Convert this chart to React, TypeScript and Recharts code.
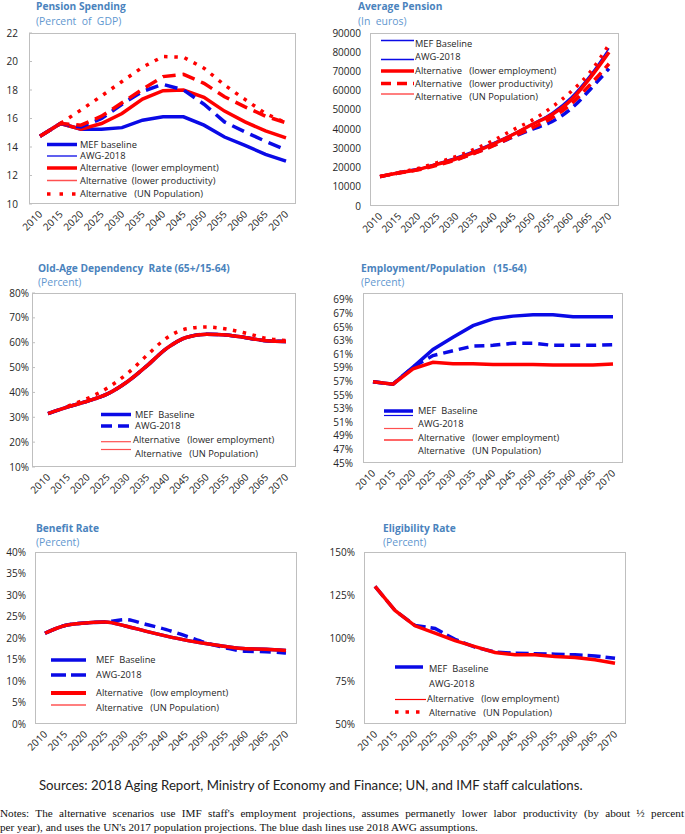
import React from 'react';
import { LineChart, Line, XAxis, YAxis, Legend } from 'recharts';

const years = ['2010', '2015', '2020', '2025', '2030', '2035', '2040', '2045', '2050', '2055', '2060', '2065', '2070'];

// Pension Spending (Percent of GDP)
const spendMEF = [14.75, 15.65, 15.25, 15.25, 15.36, 15.88, 16.12, 16.12, 15.53, 14.7, 14.12, 13.48, 13.01];
const spendAWG = [14.75, 15.65, 15.4, 16.0, 17.0, 17.9, 18.4, 18.0, 17.0, 15.76, 15.06, 14.4, 13.8];
const spendLowEmp = [14.75, 15.65, 15.25, 15.65, 16.35, 17.36, 17.95, 18.0, 17.48, 16.52, 15.76, 15.13, 14.64];
const spendLowProd = [14.75, 15.65, 15.53, 16.16, 17.1, 18.05, 18.94, 19.1, 18.47, 17.53, 16.82, 16.16, 15.7];
const spendUN = [null, 15.65, 16.6, 17.58, 18.6, 19.6, 20.35, 20.3, 19.53, 18.35, 17.34, 16.35, 15.7];
const spendTicks = [10, 12, 14, 16, 18, 20, 22];

// Average Pension (In euros)
const avgMEF = [15300, 17300, 19200, 22200, 25400, 29000, 33200, 37800, 43000, 48500, 56500, 68000, 82000];
const avgAWG = [15300, 17300, 19200, 21600, 24300, 27800, 31800, 36000, 40000, 43800, 50500, 60500, 71500];
const avgLowEmp = [15300, 17300, 19000, 21700, 24600, 28200, 32500, 37300, 42500, 47500, 55000, 66500, 80000];
const avgLowProd = [15300, 17200, 18800, 21200, 24000, 27600, 31600, 36300, 40800, 45800, 53000, 63000, 74000];
const avgUN = [15300, 17400, 19600, 22600, 25800, 29800, 34400, 39800, 44800, 51400, 59400, 69500, 84000];
const avgTicks = [0, 10000, 20000, 30000, 40000, 50000, 60000, 70000, 80000, 90000];

// Old-Age Dependency Rate (65+/15-64), percent
const depMEF = [31.5, 34.2, 36.5, 39.4, 44.3, 50.8, 57.8, 62.2, 63.4, 63.1, 62.0, 60.8, 60.5];
const depAWG = [31.5, 34.2, 36.5, 39.4, 44.3, 50.8, 57.8, 62.2, 63.4, 63.1, 62.0, 60.8, 60.5];
const depLowEmp = [31.5, 34.2, 36.5, 39.4, 44.3, 50.8, 57.8, 62.2, 63.4, 63.1, 62.0, 60.8, 60.5];
const depUN = [null, 34.5, 37.6, 41.8, 47.6, 55.0, 62.0, 65.6, 66.3, 65.5, 63.8, 61.8, 60.9];
const depTicks = [10, 20, 30, 40, 50, 60, 70, 80];

// Employment/Population (15-64), percent
const empMEF = [56.95, 56.6, 59.1, 61.7, 63.5, 65.2, 66.2, 66.6, 66.8, 66.8, 66.5, 66.5, 66.5];
const empAWG = [56.95, 56.6, 59.1, 60.8, 61.5, 62.2, 62.3, 62.6, 62.6, 62.3, 62.3, 62.3, 62.4];
const empLowEmp = [56.95, 56.6, 58.85, 59.8, 59.6, 59.6, 59.5, 59.5, 59.5, 59.4, 59.4, 59.4, 59.55];
const empTicks = [45, 47, 49, 51, 53, 55, 57, 59, 61, 63, 65, 67, 69];

// Benefit Rate, percent
const benMEF = [21.1, 22.9, 23.5, 23.7, 22.8, 21.6, 20.5, 19.5, 18.7, 18.0, 17.5, 17.4, 17.1];
const benAWG = [21.1, 22.9, 23.5, 23.7, 24.3, 23.2, 22.0, 20.5, 18.9, 17.7, 16.9, 16.8, 16.5];
const benLowEmp = [21.1, 22.9, 23.5, 23.7, 22.8, 21.6, 20.5, 19.5, 18.7, 18.0, 17.5, 17.4, 17.1];
const benTicks = [0, 5, 10, 15, 20, 25, 30, 35, 40];

// Eligibility Rate, percent
const eligMEF = [130.0, 116.0, 107.3, 105.5, 99.2, 94.7, 91.8, 91.2, 90.8, 90.6, 90.2, 89.6, 88.2];
const eligLowEmp = [130.0, 116.0, 107.1, 102.8, 98.5, 95.0, 91.6, 90.2, 90.2, 89.2, 88.6, 87.3, 85.3];
const eligTicks = [50, 75, 100, 125, 150];

const BLUE = '#0A0AE6';
const RED = '#FF0000';
const LIGHTRED = '#FF5050';
const TITLE = '#4A83BD';
const SUB = '#5F97CF';
const TXT = '#262626';
const FONT = '"Open Sans", "Noto Sans", sans-serif';

type S = { key: string; data: (number | null)[]; color: string; width: number; dash?: string; curve?: 'linear' | 'monotone' };
type Stroke = { color: string; width: number; dash?: string; dy?: number; x1?: number; x2?: number };
type LRow = { label: string; y: number; tx?: number; strokes: Stroke[] };
type PanelProps = {
  left: number; top: number; width: number; height: number;
  plot: [number, number, number, number];
  pad: [number, number];
  gap: number;
  domain: [number, number]; ticks: number[]; fmt: (v: number) => string;
  series: S[];
  legend: { x1: number; x2: number; tx: number; rows: LRow[] };
  title: string; subtitle: string; titleX: number; titleY: number; subY: number;
  innerTicks?: boolean;
};

const XTick = (props: any) => {
  const { x, y, payload } = props;
  const ax = x + 3;
  const ay = y + 11;
  return (
    <text x={ax} y={ay} transform={`rotate(-45 ${ax} ${ay})`} textAnchor="end" fontSize={10} fontFamily={FONT} fill={TXT}>
      {payload.value}
    </text>
  );
};

function Panel(p: PanelProps) {
  const data = years.map((yr, i) => {
    const o: any = { year: yr };
    p.series.forEach((s) => { o[s.key] = s.data[i]; });
    return o;
  });
  const [pl, pt, pr, pb] = p.plot;
  const lp = pl - p.left, tp = pt - p.top, rp = pr - p.left, bp = pb - p.top;
  const xh = 40;
  const yTick = (tp2: any) => {
    const { x, y, payload } = tp2;
    return (
      <g>
        <text x={x} y={y} dy="0.35em" textAnchor="end" fontSize={10} fontFamily={FONT} fill={TXT}>{p.fmt(payload.value)}</text>
        {p.innerTicks ? <line x1={x + p.gap} x2={x + p.gap + 3} y1={y} y2={y} stroke="#BFBFBF" strokeWidth={1} /> : null}
      </g>
    );
  };
  const lg = p.legend;
  const ox = p.left;
  return (
    <div style={{ position: 'absolute', left: p.left, top: p.top, width: p.width, height: p.height }}>
      <LineChart width={p.width} height={p.height} data={data}
        margin={{ top: tp, right: p.width - rp, bottom: p.height - bp - xh, left: 0 }}>
        <XAxis dataKey="year" height={xh} padding={{ left: p.pad[0], right: p.pad[1] }} axisLine={false}
          tickLine={false} tickSize={0} tickMargin={0} interval={0} tick={<XTick />} />
        <YAxis width={lp} type="number" domain={p.domain} ticks={p.ticks} axisLine={false} tickLine={false}
          tickSize={0} tickMargin={p.gap} interval={0} tick={yTick} allowDataOverflow />
        <Legend layout="vertical" align="center" verticalAlign="middle"
          wrapperStyle={{ left: 0, top: 0, width: p.width, height: p.height, pointerEvents: 'none' }}
          content={() => (
            <svg width={p.width} height={p.height} style={{ position: 'absolute', left: 0, top: 0 }}>
              {lg.rows.map((r, i) => (
                <g key={i}>
                  {r.strokes.map((s, j) => (
                    <line key={j} x1={(s.x1 ?? lg.x1) - ox} x2={(s.x2 ?? lg.x2) - ox} y1={r.y + (s.dy || 0)} y2={r.y + (s.dy || 0)}
                      stroke={s.color} strokeWidth={s.width} strokeDasharray={s.dash} />
                  ))}
                  <text x={(r.tx ?? lg.tx) - ox} y={r.y} dy="0.35em" fontSize={9.3} fontFamily={FONT} fill={TXT} style={{ whiteSpace: 'pre' }}>{r.label}</text>
                </g>
              ))}
            </svg>
          )} />
        {p.series.map((s) => (
          <Line key={s.key} type={s.curve || 'linear'} dataKey={s.key} stroke={s.color} strokeWidth={s.width}
            strokeDasharray={s.dash} dot={false} activeDot={false} isAnimationActive={false} />
        ))}
      </LineChart>
      <div style={{ position: 'absolute', left: lp, top: tp, width: rp - lp, height: bp - tp, border: '1.5px solid #BFBFBF', boxSizing: 'border-box', pointerEvents: 'none' }} />
      <div style={{ position: 'absolute', left: p.titleX - ox, top: p.titleY - 6, fontFamily: FONT, fontWeight: 700, fontSize: 10.2, color: TITLE, whiteSpace: 'pre', lineHeight: '12px' }}>{p.title}</div>
      <div style={{ position: 'absolute', left: p.titleX - ox, top: p.subY - 6, fontFamily: FONT, fontSize: 10.4, color: SUB, whiteSpace: 'pre', lineHeight: '12px' }}>{p.subtitle}</div>
    </div>
  );
}

const pct = (v: number) => `${v}%`;
const num = (v: number) => `${v}`;

export default function App() {
  return (
    <div style={{ position: 'absolute', left: 0, top: 0, width: 685, height: 834, background: '#fff', overflow: 'hidden' }}>
      <Panel left={0} top={0} width={320} height={258} plot={[29, 33, 296, 204]} pad={[11, 10]} gap={11}
        domain={[10, 22]} ticks={spendTicks} fmt={num} innerTicks
        title="Pension Spending" subtitle="(Percent  of  GDP)" titleX={36} titleY={6} subY={21}
        series={[
          { key: 'mef', data: spendMEF, color: BLUE, width: 3.5 },
          { key: 'low', data: spendLowEmp, color: RED, width: 3.5 },
          { key: 'awg', data: spendAWG, color: BLUE, width: 3.5, dash: '13 7' },
          { key: 'prod', data: spendLowProd, color: RED, width: 3.5, dash: '13 7' },
          { key: 'un', data: spendUN, color: RED, width: 3.5, dash: '3.5 6.8' },
        ]}
        legend={{
          x1: 47, x2: 77, tx: 80, rows: [
            { label: 'MEF baseline', y: 144.5, strokes: [{ color: BLUE, width: 3.5 }] },
            { label: 'AWG-2018', y: 156, strokes: [{ color: BLUE, width: 1.3 }] },
            { label: 'Alternative  (lower employment)', y: 168, strokes: [{ color: RED, width: 3.5 }] },
            { label: 'Alternative  (lower productivity)', y: 180.5, strokes: [{ color: LIGHTRED, width: 1.5 }] },
            { label: 'Alternative   (UN Population)', y: 194, strokes: [{ color: RED, width: 3.5, dash: '3.5 9' }] },
          ]
        }} />
      <Panel left={320} top={0} width={365} height={258} plot={[370, 33, 619, 206]} pad={[10, 10]} gap={9}
        domain={[0, 90000]} ticks={avgTicks} fmt={num}
        title="Average Pension" subtitle="(In  euros)" titleX={358} titleY={6} subY={21}
        series={[
          { key: 'awg', data: avgAWG, color: BLUE, width: 3.5, dash: '10 6', curve: 'monotone' },
          { key: 'mef', data: avgMEF, color: BLUE, width: 1.5, curve: 'monotone' },
          { key: 'prod', data: avgLowProd, color: RED, width: 3.5, dash: '10 6', curve: 'monotone' },
          { key: 'low', data: avgLowEmp, color: RED, width: 3.5, curve: 'monotone' },
          { key: 'un', data: avgUN, color: RED, width: 3.5, dash: '3 6.5', curve: 'monotone' },
        ]}
        legend={{
          x1: 381, x2: 414, tx: 415, rows: [
            { label: 'MEF Baseline', y: 43.5, strokes: [{ color: BLUE, width: 1.3, dy: -3 }] },
            { label: 'AWG-2018', y: 57, strokes: [{ color: BLUE, width: 1.3, dy: 2.5 }] },
            { label: 'Alternative   (lower employment)', y: 71, strokes: [{ color: RED, width: 3.5 }] },
            { label: 'Alternative   (lower productivity)', y: 83.5, strokes: [{ color: RED, width: 3.5, dash: '10 6' }] },
            { label: 'Alternative   (UN Population)', y: 97, strokes: [{ color: RED, width: 1.2, dy: -3 }] },
          ]
        }} />
      <Panel left={0} top={260} width={320} height={258} plot={[32, 293, 296, 467]} pad={[16, 10]} gap={3}
        domain={[10, 80]} ticks={depTicks} fmt={pct} innerTicks
        title="Old-Age Dependency  Rate (65+/15-64)" subtitle="(Percent)" titleX={38} titleY={8} subY={21.5}
        series={[
          { key: 'mef', data: depMEF, color: BLUE, width: 3.5, curve: 'monotone' },
          { key: 'awg', data: depAWG, color: BLUE, width: 3.5, dash: '12 6', curve: 'monotone' },
          { key: 'low', data: depLowEmp, color: RED, width: 3.5, curve: 'monotone' },
          { key: 'un', data: depUN, color: RED, width: 3.5, dash: '3.5 6.5', curve: 'monotone' },
        ]}
        legend={{
          x1: 101, x2: 131, tx: 135, rows: [
            { label: 'MEF  Baseline', y: 154.5, strokes: [{ color: BLUE, width: 3.5 }] },
            { label: 'AWG-2018', y: 166, strokes: [{ color: BLUE, width: 3.5, dash: '11 6' }] },
            { label: 'Alternative   (lower employment)', y: 180, tx: 133, strokes: [{ color: LIGHTRED, width: 1.2, dy: 1.7 }] },
            { label: 'Alternative   (UN Population)', y: 193.5, strokes: [{ color: LIGHTRED, width: 1.2, dy: -4 }] },
          ]
        }} />
      <Panel left={320} top={260} width={365} height={258} plot={[363, 293, 623, 463]} pad={[10, 10]} gap={10}
        domain={[45, 70]} ticks={empTicks} fmt={pct}
        title="Employment/Population   (15-64)" subtitle="(Percent)" titleX={361} titleY={8} subY={21.5}
        series={[
          { key: 'awg', data: empAWG, color: BLUE, width: 3.5, dash: '10 6' },
          { key: 'mef', data: empMEF, color: BLUE, width: 3.5 },
          { key: 'low', data: empLowEmp, color: RED, width: 3.5 },
        ]}
        legend={{
          x1: 384, x2: 413, tx: 418, rows: [
            { label: 'MEF  Baseline', y: 151, strokes: [{ color: BLUE, width: 3.5 }, { color: BLUE, width: 1.2, dy: 4.5 }] },
            { label: 'AWG-2018', y: 164, strokes: [{ color: LIGHTRED, width: 1.2, dy: 4.5 }] },
            { label: 'Alternative   (lower employment)', y: 177.5, strokes: [{ color: RED, width: 1.2, dy: 2.5 }] },
            { label: 'Alternative   (UN Population)', y: 191, strokes: [] },
          ]
        }} />
      <Panel left={0} top={520} width={320} height={250} plot={[35, 552, 297, 724]} pad={[10, 11]} gap={9}
        domain={[0, 40]} ticks={benTicks} fmt={pct}
        title="Benefit Rate" subtitle="(Percent)" titleX={36} titleY={7.5} subY={22}
        series={[
          { key: 'mef', data: benMEF, color: BLUE, width: 3.5, curve: 'monotone' },
          { key: 'awg', data: benAWG, color: BLUE, width: 3.5, dash: '11 6', curve: 'monotone' },
          { key: 'low', data: benLowEmp, color: RED, width: 3.5, curve: 'monotone' },
        ]}
        legend={{
          x1: 51, x2: 86, tx: 96, rows: [
            { label: 'MEF  Baseline', y: 140, strokes: [{ color: BLUE, width: 3.5 }] },
            { label: 'AWG-2018', y: 155, strokes: [{ color: BLUE, width: 3.5, dash: '15 5' }] },
            { label: 'Alternative   (low employment)', y: 173, strokes: [{ color: RED, width: 4 }] },
            { label: 'Alternative   (UN Population)', y: 187.5, strokes: [{ color: RED, width: 1.2, dy: -2.5 }] },
          ]
        }} />
      <Panel left={320} top={520} width={365} height={250} plot={[364, 552, 626, 724]} pad={[11, 11]} gap={9}
        domain={[50, 150]} ticks={eligTicks} fmt={pct}
        title="Eligibility Rate" subtitle="(Percent)" titleX={383} titleY={7.5} subY={22}
        series={[
          { key: 'mef', data: eligMEF, color: BLUE, width: 3.5, dash: '13 5' },
          { key: 'low', data: eligLowEmp, color: RED, width: 3.5 },
        ]}
        legend={{
          x1: 395, x2: 423, tx: 429, rows: [
            { label: 'MEF  Baseline', y: 148.5, strokes: [{ color: BLUE, width: 3.5, dy: -1.5 }] },
            { label: 'AWG-2018', y: 163.5, strokes: [] },
            { label: 'Alternative   (low employment)', y: 178.5, tx: 427, strokes: [{ color: RED, width: 1.2, dy: 1, x2: 426 }] },
            { label: 'Alternative   (UN Population)', y: 193, strokes: [{ color: RED, width: 3.5, dash: '3.5 7', dy: -1 }] },
          ]
        }} />
      <div style={{ position: 'absolute', left: 39, top: 777, fontFamily: 'Lato, sans-serif', fontSize: 13.2, color: '#222', lineHeight: '16px', whiteSpace: 'nowrap' }}>
        Sources: 2018 Aging Report, Ministry of Economy and Finance; UN, and IMF staff calculations.
      </div>
      <div style={{ position: 'absolute', left: 0, top: 806, width: 684, fontFamily: '"Liberation Serif", serif', fontSize: 11.2, color: '#111', lineHeight: '14px', textAlign: 'justify', textAlignLast: 'justify', whiteSpace: 'nowrap' as any }}>
        Notes: The alternative scenarios use IMF staff's employment projections, assumes permanetly lower labor productivity (by about ½ percent
      </div>
      <div style={{ position: 'absolute', left: 0, top: 820, width: 685, fontFamily: '"Liberation Serif", serif', fontSize: 11.2, color: '#111', lineHeight: '14px', whiteSpace: 'nowrap' }}>
        per year), and uses the UN's 2017 population projections. The blue dash lines use 2018 AWG assumptions.
      </div>
    </div>
  );
}
